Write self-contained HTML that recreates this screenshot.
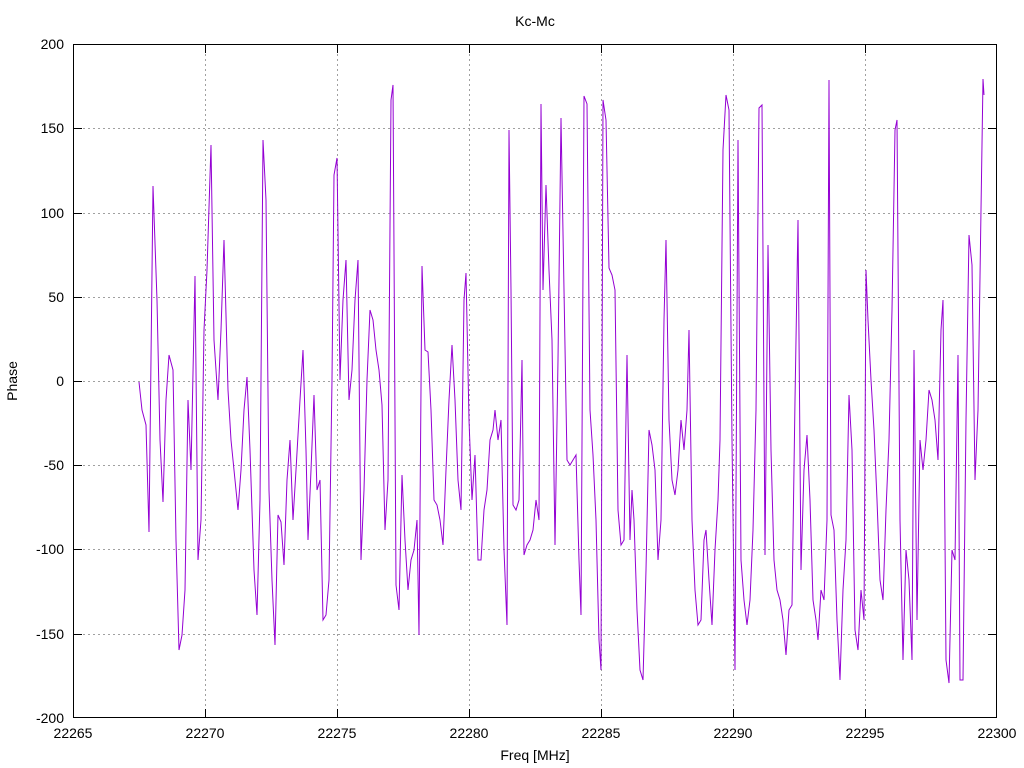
<!DOCTYPE html>
<html><head><meta charset="utf-8"><style>
html,body{margin:0;padding:0;background:#fff;}
svg{display:block;font-family:"Liberation Sans",sans-serif;}
</style></head><body>
<svg width="1024" height="768" viewBox="0 0 1024 768" xmlns="http://www.w3.org/2000/svg">
<rect width="1024" height="768" fill="#fff"/>
<g stroke="#a0a0a0" stroke-width="1" stroke-dasharray="2,3" shape-rendering="crispEdges">
<line x1="73" y1="128.5" x2="997" y2="128.5"/>
<line x1="73" y1="213.5" x2="997" y2="213.5"/>
<line x1="73" y1="297.5" x2="997" y2="297.5"/>
<line x1="73" y1="381.5" x2="997" y2="381.5"/>
<line x1="73" y1="465.5" x2="997" y2="465.5"/>
<line x1="73" y1="549.5" x2="997" y2="549.5"/>
<line x1="73" y1="634.5" x2="997" y2="634.5"/>
<line x1="205.5" y1="44" x2="205.5" y2="718"/>
<line x1="337.5" y1="44" x2="337.5" y2="718"/>
<line x1="469.5" y1="44" x2="469.5" y2="718"/>
<line x1="601.5" y1="44" x2="601.5" y2="718"/>
<line x1="733.5" y1="44" x2="733.5" y2="718"/>
<line x1="865.5" y1="44" x2="865.5" y2="718"/>
</g>
<g stroke="#000" stroke-width="1" shape-rendering="crispEdges" fill="none">
<rect x="73.5" y="44.5" width="923" height="673"/>
<path d="M73 44.5h9M73 128.5h9M73 213.5h9M73 297.5h9M73 381.5h9M73 465.5h9M73 549.5h9M73 634.5h9M73 717.5h9
M997 44.5h-9M997 128.5h-9M997 213.5h-9M997 297.5h-9M997 381.5h-9M997 465.5h-9M997 549.5h-9M997 634.5h-9M997 717.5h-9
M73.5 718v-9M205.5 718v-9M337.5 718v-9M469.5 718v-9M601.5 718v-9M733.5 718v-9M865.5 718v-9M996.5 718v-9
M73.5 44v9M205.5 44v9M337.5 44v9M469.5 44v9M601.5 44v9M733.5 44v9M865.5 44v9M996.5 44v9"/>
</g>
<g font-size="14" fill="#000" text-anchor="end">
<text x="64" y="49">200</text><text x="64" y="133">150</text><text x="64" y="218">100</text>
<text x="64" y="302">50</text><text x="64" y="386">0</text><text x="64" y="470">-50</text>
<text x="64" y="554">-100</text><text x="64" y="639">-150</text><text x="64" y="723">-200</text>
</g>
<g font-size="14" fill="#000" text-anchor="middle">
<text x="73" y="738">22265</text><text x="205" y="738">22270</text><text x="337" y="738">22275</text>
<text x="469" y="738">22280</text><text x="601" y="738">22285</text><text x="733" y="738">22290</text>
<text x="865" y="738">22295</text><text x="997" y="738">22300</text>
<text x="535" y="760">Freq [MHz]</text>
<text x="535" y="26">Kc-Mc</text>
<text transform="translate(17,381) rotate(-90)">Phase</text>
</g>
<polyline fill="none" stroke="#9400d3" stroke-width="1" points="139,382 142,410 146,425 149,532 153,186 157,300 160,440 163,502 166,400 169,355 173,370 176,540 179,650 182,635 185,590 188,400 191,470 195,276 198,560 201,520 204,330 207,270 211,145 214,340 218,400 221,330 224,240 228,390 231,440 235,480 238,510 241,470 244,410 247,377 250,450 254,570 257,615 260,500 263,140 266,200 269,490 272,580 275,645 278,515 281,522 284,565 287,480 290,440 293,520 296,470 300,400 303,350 306,450 308,540 311,470 314,395 317,490 320,480 323,620 326,615 329,580 332,380 334,175 337,158 340,380 343,300 346,260 349,400 352,370 355,300 358,260 361,560 364,490 367,380 370,310 373,320 376,350 379,370 382,405 385,530 388,480 391,100 393,85 396,585 399,610 402,475 405,540 408,590 411,560 414,550 417,520 419,635 422,266 425,350 428,352 431,410 434,500 437,505 440,520 443,545 446,470 449,400 452,345 455,400 458,480 461,510 464,300 466,273 469,420 472,500 475,455 478,560 481,560 484,510 487,490 490,440 493,430 495,410 498,440 501,420 504,550 507,625 509,130 511,290 513,505 516,510 519,500 522,360 524,555 527,545 530,540 533,530 536,500 539,520 541,104 543,290 546,185 549,270 552,340 555,545 558,360 561,118 564,290 567,460 570,465 573,460 576,455 579,560 581,615 584,96 587,104 590,410 593,455 596,520 599,640 601,670 603,100 606,120 609,268 612,275 615,290 618,510 621,545 624,540 627,355 630,540 632,490 634,520 637,610 640,670 643,680 646,570 649,430 652,445 655,470 658,560 661,520 664,320 666,240 669,420 672,480 675,495 678,470 681,420 684,450 687,410 689,330 692,520 695,590 698,625 701,620 704,540 706,530 709,580 712,625 715,550 718,500 720,440 723,150 726,95 729,110 732,440 735,670 738,140 741,560 744,600 747,625 750,600 753,530 756,410 759,108 762,105 765,555 768,245 771,450 774,560 777,590 780,600 783,620 786,655 789,610 792,605 795,400 798,220 801,570 804,470 807,435 810,500 813,600 816,620 818,640 821,590 824,600 827,520 829,80 831,515 834,530 837,620 840,680 843,590 846,540 849,395 852,450 855,630 858,650 861,590 864,620 866,270 868,320 871,380 874,430 877,500 880,580 883,600 886,510 889,440 892,310 895,130 897,120 900,520 903,660 906,550 909,580 912,660 914,350 917,620 920,440 923,470 926,440 929,390 932,400 935,420 938,460 941,330 943,300 946,660 949,683 952,550 955,560 958,355 960,680 963,680 966,420 969,235 972,265 975,480 978,410 981,210 983,79 984,95"/>
</svg>
</body></html>
